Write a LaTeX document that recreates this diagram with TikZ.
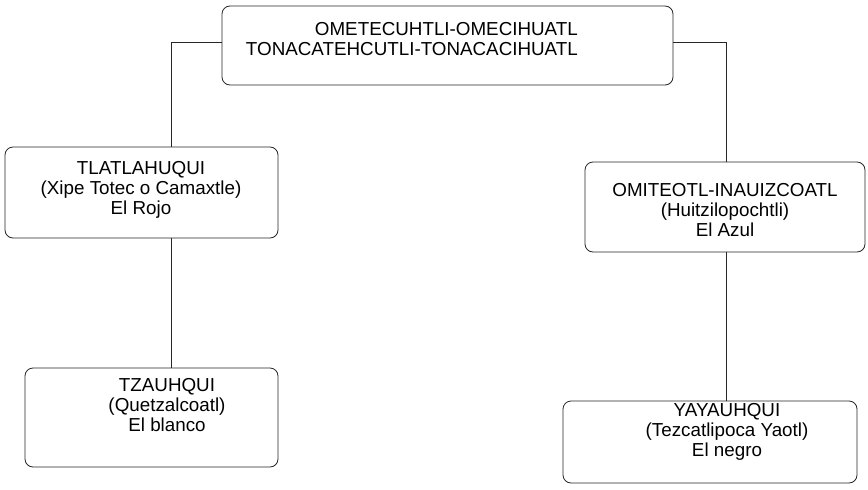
\documentclass[tikz,border=0pt]{standalone}
\usepackage{fontspec}
\setmainfont{Liberation Sans}
\begin{document}
\begin{tikzpicture}[x=1pt,y=-1pt,
        godbox/.style={draw=black!85,line width=0.8pt,rounded corners=8pt,inner sep=0pt},
        godtext/.style={inner sep=0pt,font=\fontsize{18.8}{20}\selectfont},
        link/.style={draw=black!85,line width=0.8pt}]
            \useasboundingbox (0,0) rectangle (868,490);
            % boxes
            \node[godbox,minimum width=451pt,minimum height=79pt] (top) at (447.5,45.5) {};
            \node[godbox,minimum width=273pt,minimum height=91pt] (rojo) at (141.5,192.5) {};
            \node[godbox,minimum width=253pt,minimum height=99pt] (blanco) at (151.5,417.5) {};
            \node[godbox,minimum width=280pt,minimum height=90pt] (azul) at (725,207) {};
            \node[godbox,minimum width=294pt,minimum height=82pt] (negro) at (710,442) {};
            % texts
            \node[godtext,align=right,anchor=east] (toptxt) at (578,39)
                {OMETECUHTLI-OMECIHUATL\\TONACATEHCUTLI-TONACACIHUATL};
            \node[godtext,align=center] (rojotxt) at (141,190)
                {TLATLAHUQUI\\(Xipe Totec o Camaxtle)\\El Rojo};
            \node[godtext,align=center] (blancotxt) at (167,405)
                {TZAUHQUI\\(Quetzalcoatl)\\El blanco};
            \node[godtext,align=center] (azultxt) at (725,210)
                {OMITEOTL-INAUIZCOATL\\(Huitzilopochtli)\\El Azul};
            \node[godtext,align=center] (negrotxt) at (727,432)
                {YAYAUHQUI\\(Tezcatlipoca Yaotl)\\El negro};
            % connectors
            \coordinate (lbend) at (171,42);
            \coordinate (rbend) at (726,42);
            \draw[link] (top.west |- lbend) -- (lbend) -- (lbend |- rojo.north);
            \draw[link] (lbend |- rojo.south) -- (lbend |- blanco.north);
            \draw[link] (top.east |- rbend) -- (rbend) -- (rbend |- azul.north);
            \draw[link] (rbend |- azul.south) -- (rbend |- negro.north);
        \end{tikzpicture}
\end{document}
